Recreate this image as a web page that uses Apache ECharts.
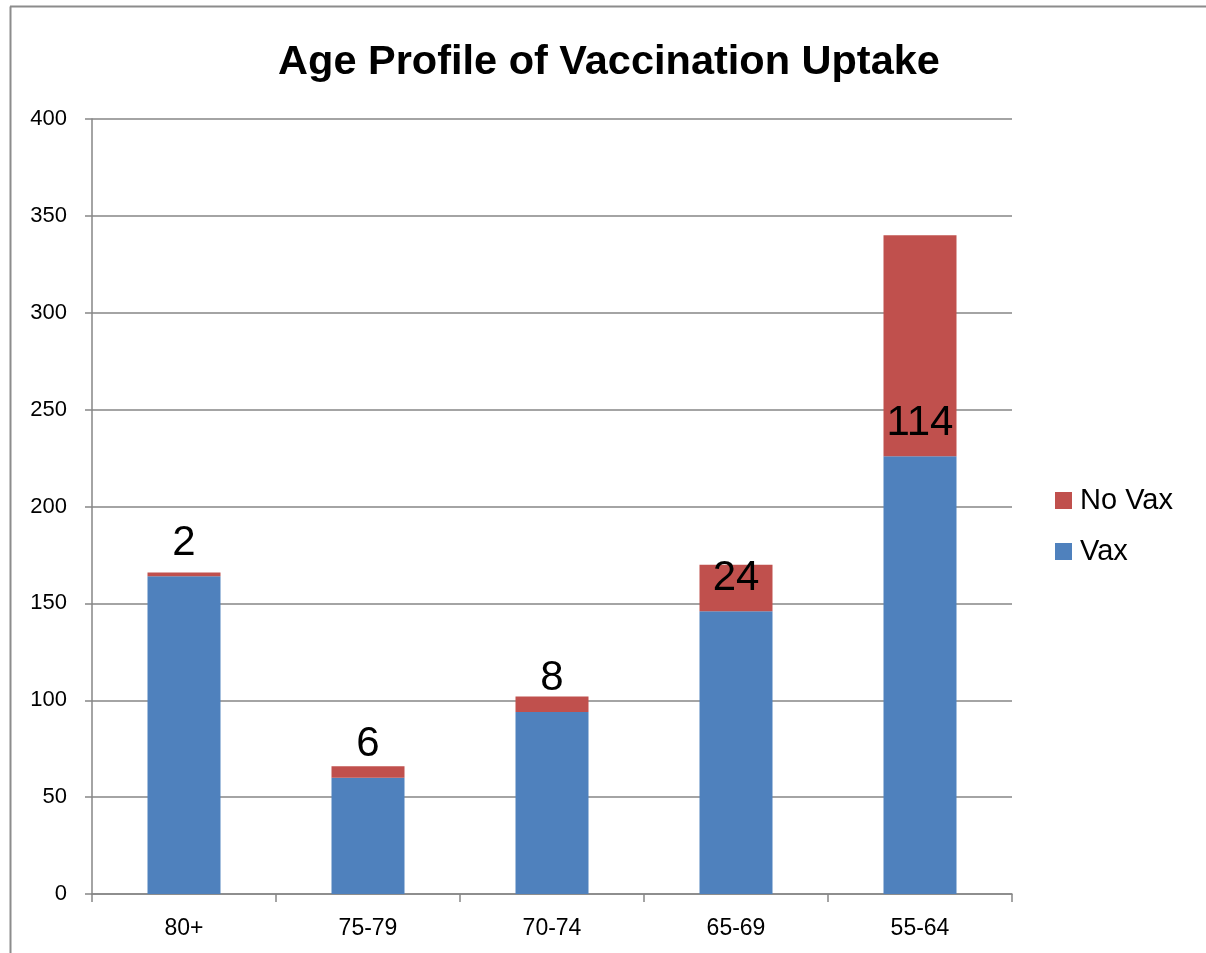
<!DOCTYPE html>
<html>
<head>
<meta charset="utf-8">
<script src="https://cdn.jsdelivr.net/npm/echarts@6/dist/echarts.min.js"></script>
<style>
html,body{margin:0;padding:0;background:#fff;}
#chart{width:1206px;height:953px;}
</style>
</head>
<body>
<div id="chart"></div>
<script>
const categories = ['80+', '75-79', '70-74', '65-69', '55-64'];
const vax = [164, 60, 94, 146, 226];
const noVax = [2, 6, 8, 24, 114];
const yTicks = { min: 0, max: 400, interval: 50 };

const chart = echarts.init(document.getElementById('chart'), null, { renderer: 'canvas' });
const gray = '#868686';
chart.setOption({
  animation: false,
  backgroundColor: '#ffffff',
  title: {
    text: 'Age Profile of Vaccination Uptake',
    left: 604, top: 37, textAlign: 'center',
    textStyle: { fontFamily: 'Liberation Sans', fontWeight: 'bold', fontSize: 41.5, color: '#000' }
  },
  graphic: [
    { type: 'line', shape: { x1: 10.5, y1: 6.5, x2: 10.5, y2: 953 }, style: { stroke: '#8c8c8c', lineWidth: 2 } },
    { type: 'line', shape: { x1: 10, y1: 6.5, x2: 1206, y2: 6.5 }, style: { stroke: '#8c8c8c', lineWidth: 2 } }
  ],
  legend: {
    orient: 'vertical',
    left: 1050, top: 480,
    data: ['No Vax', 'Vax'],
    icon: 'rect',
    itemWidth: 17, itemHeight: 17, itemGap: 20,
    textStyle: { fontFamily: 'Liberation Sans', fontSize: 29, color: '#000', lineHeight: 31, padding: [0, 0, 0, 3] }
  },
  grid: { left: 92, right: 194, top: 119, bottom: 59 },
  xAxis: {
    type: 'category',
    data: categories,
    axisLine: { lineStyle: { color: gray, width: 1.5 } },
    axisTick: { show: true, length: 8, alignWithLabel: false, lineStyle: { color: gray, width: 1.5 } },
    axisLabel: { fontFamily: 'Liberation Sans', fontSize: 23, color: '#000', margin: 23 }
  },
  yAxis: {
    type: 'value',
    min: yTicks.min, max: yTicks.max, interval: yTicks.interval,
    axisLine: { show: true, lineStyle: { color: gray, width: 1.5 } },
    axisTick: { show: true, length: 7, lineStyle: { color: gray, width: 1.5 } },
    splitLine: { lineStyle: { color: gray, width: 1.5 } },
    axisLabel: { fontFamily: 'Liberation Sans', fontSize: 22, color: '#000', margin: 25 }
  },
  series: [
    {
      name: 'Vax', type: 'bar', stack: 'total', data: vax,
      barWidth: 73,
      itemStyle: { color: '#4F81BD' }
    },
    {
      name: 'No Vax', type: 'bar', stack: 'total', data: noVax,
      barWidth: 73,
      itemStyle: { color: '#C0504D' },
      label: {
        show: true, position: 'insideBottom', distance: 12,
        fontFamily: 'Liberation Sans', fontSize: 42, color: '#000'
      }
    }
  ]
});
</script>
</body>
</html>
